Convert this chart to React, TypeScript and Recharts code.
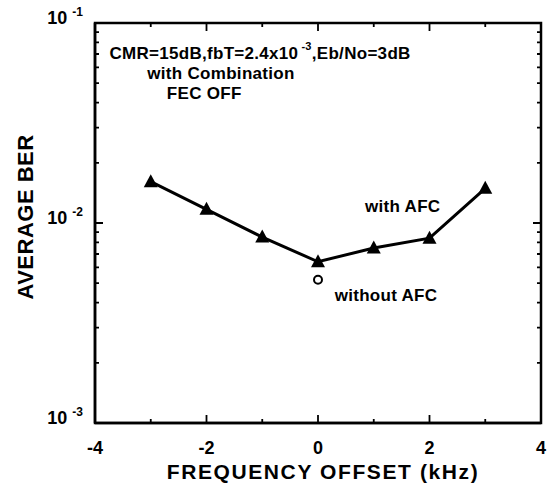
import { ComposedChart, Line, Scatter, XAxis, YAxis, ReferenceDot } from 'recharts';

const offsets = [-3, -2, -1, 0, 1, 2, 3];
const berWithAfc = [0.0161, 0.0117, 0.0085, 0.0064, 0.0075, 0.0084, 0.0149];
const berWithoutAfc = [{ offset: 0, ber: 0.0052 }];

const X_MIN = -4;
const X_MAX = 4;
const Y_MIN = 0.001;
const Y_MAX = 0.1;

const WIDTH = 548;
const HEIGHT = 483;
const MARGIN = { top: 23, right: 7, bottom: 0, left: 0 };
const Y_AXIS_W = 95;
const X_AXIS_H = 60;

const xTicks = [-4, -2, 0, 2, 4];
const xInnerTicks = [-3, -2, -1, 0, 1, 2, 3];
const yTicks = [0.001, 0.01, 0.1];
const yTickLabels = ['-3', '-2', '-1'];
const yInnerTicks = [
  0.002, 0.003, 0.004, 0.005, 0.006, 0.007, 0.008, 0.009,
  0.01, 0.02, 0.03, 0.04, 0.05, 0.06, 0.07, 0.08, 0.09,
];

const notes = [
  { offset: -1.04, ber: 0.071, text: 'CMR=15dB,fbT=2.4x10', sup: '-3', tail: ',Eb/No=3dB' },
  { offset: -1.74, ber: 0.0562, text: 'with Combination' },
  { offset: -2.04, ber: 0.0447, text: 'FEC OFF' },
  { offset: 1.52, ber: 0.0121, text: 'with AFC' },
  { offset: 1.22, ber: 0.00437, text: 'without AFC' },
];

const data = offsets.map((offset, i) => ({ offset, ber: berWithAfc[i] }));

const FONT = '"Liberation Sans", Arial, sans-serif';

// plot box, derived from the chart size, margins and axis sizes
const box = {
  left: MARGIN.left + Y_AXIS_W,
  right: WIDTH - MARGIN.right,
  top: MARGIN.top,
  bottom: HEIGHT - MARGIN.bottom - X_AXIS_H,
};

const Triangle = (props: any) => {
  const { cx, cy } = props;
  if (cx == null || cy == null) return null;
  return <path d={`M${cx},${cy - 7.5} L${cx + 7},${cy + 5.5} L${cx - 7},${cy + 5.5} Z`} fill="#000" />;
};

const Ring = (props: any) => {
  const { cx, cy } = props;
  return <circle cx={cx} cy={cy} r={4} fill="#fff" stroke="#000" strokeWidth={2} />;
};

const XTick = (props: any) => {
  const { x, y, payload } = props;
  return (
    <text x={x} y={y + 25} fontFamily={FONT} fontWeight="bold" fontSize={18} fill="#000" textAnchor="middle" dominantBaseline="central">
      {payload.value}
    </text>
  );
};

const YTick = (props: any) => {
  const { x, y, payload } = props;
  const i = yTicks.indexOf(payload.value);
  return (
    <text x={x - 12} y={y - 5} fontFamily={FONT} fontWeight="bold" fontSize={18} fill="#000" textAnchor="end" dominantBaseline="central">
      <tspan>10</tspan>
      <tspan dx={5} dy={-6} fontSize={12}>{yTickLabels[i]}</tspan>
    </text>
  );
};

const NoteLabel = (note: any) => (props: any) => {
  const { viewBox } = props;
  const cx = viewBox.x + viewBox.width / 2;
  const cy = viewBox.y + viewBox.height / 2;
  return (
    <text x={cx} y={cy} fontFamily={FONT} fontWeight="bold" fontSize={17} fill="#000" textAnchor="middle" dominantBaseline="central" letterSpacing={0.3}>
      <tspan>{note.text}</tspan>
      {note.sup && <tspan dx={3} dy={-7} fontSize={11}>{note.sup}</tspan>}
      {note.tail && <tspan dy={7}>{note.tail}</tspan>}
    </text>
  );
};

const YLabel = (props: any) => {
  const { viewBox } = props;
  const x = 25;
  const y = viewBox.y + viewBox.height / 2 - 6;
  return (
    <text x={x} y={y} transform={`rotate(-90, ${x}, ${y})`} fontFamily={FONT} fontWeight="bold" fontSize={22} fill="#000" textAnchor="middle" dominantBaseline="central" letterSpacing={0.5}>
      AVERAGE BER
    </text>
  );
};

// closed frame with inward ticks on all four sides
function Frame() {
  const px = (v: number) => box.left + ((v - X_MIN) / (X_MAX - X_MIN)) * (box.right - box.left);
  const py = (v: number) =>
    box.top + ((Math.log10(Y_MAX) - Math.log10(v)) / (Math.log10(Y_MAX) - Math.log10(Y_MIN))) * (box.bottom - box.top);
  const segs: string[] = [];
  xInnerTicks.forEach((v) => {
    const len = v % 2 === 0 ? 8 : 4;
    segs.push(`M${px(v)},${box.bottom}V${box.bottom - len}`);
    segs.push(`M${px(v)},${box.top}V${box.top + len}`);
  });
  yInnerTicks.forEach((v) => {
    const len = v === 0.01 ? 8 : 4;
    segs.push(`M${box.left},${py(v)}H${box.left + len}`);
    segs.push(`M${box.right},${py(v)}H${box.right - len}`);
  });
  return (
    <svg width={WIDTH} height={HEIGHT} style={{ position: 'absolute', left: 0, top: 0, pointerEvents: 'none' }}>
      <rect x={box.left} y={box.top} width={box.right - box.left} height={box.bottom - box.top} fill="none" stroke="#000" strokeWidth={2.5} />
      <path d={segs.join('')} fill="none" stroke="#000" strokeWidth={1.8} />
    </svg>
  );
}

export default function App() {
  return (
    <div style={{ position: 'absolute', left: 0, top: 0, width: WIDTH, height: HEIGHT, background: '#fff' }}>
      <ComposedChart width={WIDTH} height={HEIGHT} data={data} margin={MARGIN}>
        <XAxis
          dataKey="offset"
          type="number"
          domain={[X_MIN, X_MAX]}
          ticks={xTicks}
          interval={0}
          tickLine={false}
          tickSize={0}
          tickMargin={0}
          axisLine={{ stroke: '#000', strokeWidth: 2.5 }}
          tick={XTick}
          height={X_AXIS_H}
          label={{ value: 'FREQUENCY OFFSET (kHz)', position: 'insideBottom', offset: 4, dx: 5, fill: '#000', fontFamily: FONT, fontWeight: 'bold', fontSize: 21, letterSpacing: 1.6 }}
        />
        <YAxis
          scale="log"
          type="number"
          domain={[Y_MIN, Y_MAX]}
          ticks={yTicks}
          interval={0}
          tickLine={false}
          tickSize={0}
          tickMargin={0}
          axisLine={{ stroke: '#000', strokeWidth: 2.5 }}
          tick={YTick}
          width={Y_AXIS_W}
          label={{ content: YLabel }}
        />
        <Line
          dataKey="ber"
          stroke="#000"
          strokeWidth={3}
          dot={<Triangle />}
          activeDot={false}
          isAnimationActive={false}
        />
        <Scatter data={berWithoutAfc} dataKey="ber" shape={<Ring />} isAnimationActive={false} />
        {notes.map((n, i) => (
          <ReferenceDot key={i} x={n.offset} y={n.ber} r={1} fill="none" stroke="none" label={{ content: NoteLabel(n) }} />
        ))}
      </ComposedChart>
      <Frame />
    </div>
  );
}
